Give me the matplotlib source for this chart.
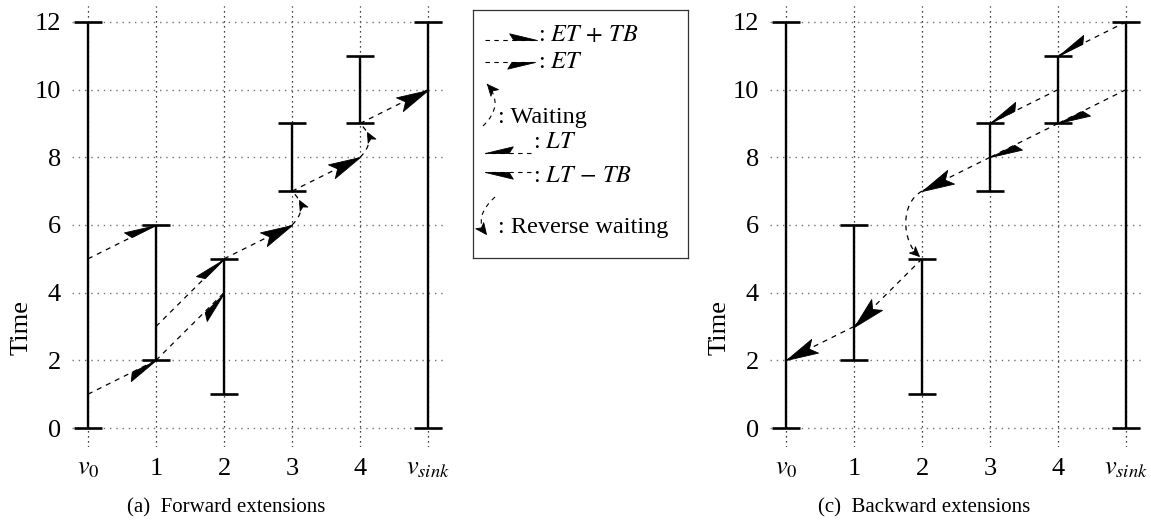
import numpy as np
import matplotlib
matplotlib.use("Agg")
import matplotlib.pyplot as plt
from matplotlib.markers import MarkerStyle
from matplotlib.path import Path
from matplotlib.patches import PathPatch
from matplotlib.transforms import Affine2D

plt.rcParams["font.family"] = "serif"
plt.rcParams["font.serif"] = ["Liberation Serif", "DejaVu Serif"]
plt.rcParams["mathtext.fontset"] = "stix"

W, H = 1151, 525

# --- data -----------------------------------------------------------------
NODE_LABELS = [r"$v_0$", "1", "2", "3", "4", r"$v_{sink}$"]
WIN_START = [0, 2, 1, 7, 9, 0]
WIN_END = [12, 6, 5, 9, 11, 12]
Y_TICKS = [0, 2, 4, 6, 8, 10, 12]

# forward extensions (node index, time) -> (node index, time), head type
FWD_FROM_NODE = [0, 0, 1, 1, 2, 3, 4]
FWD_FROM_T = [5, 1, 3, 2, 5, 7, 9]
FWD_TO_NODE = [1, 1, 2, 2, 3, 4, 5]
FWD_TO_T = [6, 2, 5, 4, 6, 8, 10]
FWD_HEAD = ["tb", "plain", "tb", "plain", "full", "full", "full"]
FWD_WAIT_NODE = [3, 4]
FWD_WAIT_FROM = [6, 8]
FWD_WAIT_TO = [7, 9]

# backward extensions
BWD_FROM_NODE = [5, 4, 5, 4, 3, 2, 1]
BWD_FROM_T = [12, 10, 10, 9, 8, 5, 3]
BWD_TO_NODE = [4, 3, 4, 3, 2, 1, 0]
BWD_TO_T = [11, 9, 9, 8, 7, 3, 2]
BWD_HEAD = ["plain", "plain", "tb", "tb", "full", "full", "full"]
BWD_WAIT_NODE = [2]
BWD_WAIT_FROM = [7]
BWD_WAIT_TO = [5]

LEGEND_LABELS = [r": $ET\,+\,TB$", r": $ET$", ": Waiting", r": $LT$",
                 r": $LT\,-\,TB$", ": Reverse waiting"]
CAPTIONS = ["(a)  Forward extensions", "(c)  Backward extensions"]

DASH = (0, (4, 4))


def head_verts(kind):
    if kind == "full":
        return [(0, 0), (-1, 0.24), (-0.8, 0), (-1, -0.24), (0, 0)]
    if kind == "tb":
        return [(0, 0), (-1, 0.24), (-0.85, 0), (0, 0)]
    if kind == "plain":
        return [(0, 0), (-1, -0.24), (-0.85, 0), (0, 0)]
    return [(0, 0), (-1, 0.45), (-0.75, 0), (-1, -0.45), (0, 0)]


def add_head(ax, x0, y0, x1, y1, kind, length=23):
    p0, p1 = ax.transData.transform([(x0, y0), (x1, y1)])
    ang = np.degrees(np.arctan2(p1[1] - p0[1], p1[0] - p0[0]))
    m = MarkerStyle(Path(head_verts(kind), closed=True),
                    transform=Affine2D().rotate_deg(ang))
    ax.plot([x1], [y1], marker=m, ms=2 * length, color="k", mfc="k",
            mec="k", mew=0.6, ls="none", zorder=6)


def dashed(ax, x0, y0, x1, y1, lw=0.9):
    ax.plot([x0, x1], [y0, y1], color="k", lw=lw, ls=DASH, zorder=4)


def curve(ax, pts, lw=0.9):
    codes = [Path.MOVETO] + [Path.CURVE3 if len(pts) == 3 else Path.CURVE4] * (len(pts) - 1)
    ax.add_patch(PathPatch(Path(pts, codes), fill=False, lw=lw, ls=DASH,
                           ec="k", zorder=4))


def setup(ax):
    ax.set_xlim(-0.235, 5.22)
    ax.set_ylim(-0.56, 12.47)
    ax.set_xticks(range(len(NODE_LABELS)))
    ax.set_xticklabels(NODE_LABELS)
    ax.set_yticks(Y_TICKS)
    ax.tick_params(length=0, pad=8, labelsize=19)
    for s in ax.spines.values():
        s.set_visible(False)
    ax.set_axisbelow(True)
    ax.grid(axis="y", color="0.45", ls=(0, (1, 3.5)), lw=1.0)
    ax.grid(axis="x", color="k", ls=(0, (1, 3)), lw=0.9)
    ax.set_ylabel("Time", fontsize=19, va="center")
    ax.yaxis.set_label_coords(-0.135, 0.272)
    nodes = np.arange(len(NODE_LABELS))
    ax.vlines(nodes, WIN_START, WIN_END, color="k", lw=1.7, zorder=3)
    ax.hlines(WIN_START, nodes - 0.2, nodes + 0.2, color="k", lw=1.9, zorder=3)
    ax.hlines(WIN_END, nodes - 0.2, nodes + 0.2, color="k", lw=1.9, zorder=3)


fig = plt.figure(figsize=(W / 100, H / 100), dpi=100)
axL = fig.add_axes([72 / W, 1 - 447 / H, 371 / W, 441 / H])
axR = fig.add_axes([770 / W, 1 - 447 / H, 371 / W, 441 / H])
setup(axL)
setup(axR)

# forward extensions
for a, ta, b, tb, k in zip(FWD_FROM_NODE, FWD_FROM_T, FWD_TO_NODE, FWD_TO_T, FWD_HEAD):
    dashed(axL, a, ta, b, tb)
    add_head(axL, a, ta, b, tb, k)
for n, t0, t1 in zip(FWD_WAIT_NODE, FWD_WAIT_FROM, FWD_WAIT_TO):
    c = (n + 0.26, (t0 + t1) / 2)
    curve(axL, [(n, t0), c, (n, t1)])
    t = 0.75
    px = (1 - t) ** 2 * n + 2 * t * (1 - t) * c[0] + t ** 2 * n
    py = (1 - t) ** 2 * t0 + 2 * t * (1 - t) * c[1] + t ** 2 * t1
    dx = 2 * (1 - t) * (c[0] - n) + 2 * t * (n - c[0])
    dy = 2 * (1 - t) * (c[1] - t0) + 2 * t * (t1 - c[1])
    add_head(axL, px - dx * 0.1, py - dy * 0.1, px, py, "small", length=7)

# backward extensions
for a, ta, b, tb, k in zip(BWD_FROM_NODE, BWD_FROM_T, BWD_TO_NODE, BWD_TO_T, BWD_HEAD):
    dashed(axR, a, ta, b, tb)
    add_head(axR, a, ta, b, tb, k)
for n, t0, t1 in zip(BWD_WAIT_NODE, BWD_WAIT_FROM, BWD_WAIT_TO):
    p1 = (n - 0.32, t0 - 0.35)
    p2 = (n - 0.3, t1 + 0.55)
    p3 = (n - 0.05, t1 + 0.08)
    curve(axR, [(n, t0), p1, p2, p3])
    add_head(axR, p2[0], p2[1], p3[0], p3[1], "small", length=7)

# legend box (pixel coordinates inside the box)
axG = fig.add_axes([473 / W, 1 - 258 / H, 215 / W, 248 / H])
axG.set_xlim(0, 215)
axG.set_ylim(248, 0)
axG.set_xticks([])
axG.set_yticks([])
for s in axG.spines.values():
    s.set_linewidth(0.9)
    s.set_color("0.2")

dashed(axG, 12, 30, 64, 30, lw=0.8)
add_head(axG, 12, 30, 64, 30, "tb", length=20)
dashed(axG, 12, 52, 62, 52, lw=0.8)
add_head(axG, 12, 52, 62, 52, "plain", length=20)
curve(axG, [(10, 116), (32, 95), (14, 74)], lw=0.8)
add_head(axG, 32, 95, 14, 74, "small", length=8)
dashed(axG, 58, 143, 12, 143, lw=0.8)
add_head(axG, 58, 143, 12, 143, "plain", length=20)
dashed(axG, 58, 162, 12, 162, lw=0.8)
add_head(axG, 58, 162, 12, 162, "tb", length=20)
curve(axG, [(22, 187), (0, 207), (13, 224)], lw=0.8)
add_head(axG, 0, 207, 13, 224, "small", length=8)

text_pos = [(65, 25), (65, 53), (25, 107), (60, 133), (60, 167), (25, 217)]
for (tx, ty), lab in zip(text_pos, LEGEND_LABELS):
    axG.text(tx, ty, lab, fontsize=17.5, va="center", ha="left")

fig.text(226 / W, 1 - 508 / H, CAPTIONS[0], fontsize=15, ha="center", va="center")
fig.text(924 / W, 1 - 508 / H, CAPTIONS[1], fontsize=15, ha="center", va="center")

fig.savefig("out.png", dpi=100)
